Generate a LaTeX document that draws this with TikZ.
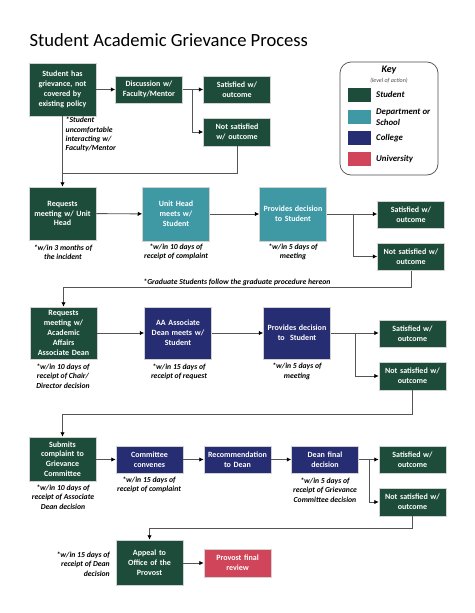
\documentclass[tikz,border=0pt]{standalone}
\usepackage{fontspec}
\setmainfont{Carlito}
\usepackage{tikz}
\usetikzlibrary{calc}
\usetikzlibrary{shapes,arrows,arrows.meta,positioning}
\definecolor{stugreen}{HTML}{1D4C3B}
\definecolor{deptteal}{HTML}{3E99A5}
\definecolor{collnavy}{HTML}{272D72}
\definecolor{univred}{HTML}{D0455A}
\definecolor{linegray}{HTML}{555555}
\tikzset{
  box/.style={draw=gray!35, line width=0.5pt, text=white, align=center,
    text width=62pt, inner xsep=2.5pt, inner ysep=0pt, minimum height=27.5pt,
    font=\fontsize{8}{9.8}\selectfont\bfseries},
  stud/.style={box, fill=stugreen},
  dept/.style={box, fill=deptteal},
  coll/.style={box, fill=collnavy},
  univ/.style={box, fill=univred},
  note/.style={inner sep=0pt, align=center, font=\fontsize{7.7}{9.3}\selectfont\bfseries\itshape},
  keylabel/.style={note, anchor=west, align=left, font=\fontsize{8.8}{11}\selectfont\bfseries\itshape},
  conn/.style={draw=linegray, line width=0.9pt},
  swatch/.style={minimum width=23pt, minimum height=14pt, inner sep=0pt}
}

\begin{document}
\begin{tikzpicture}[x=1pt, y=-1pt, >={Latex[length=4.5pt,width=4.5pt,color=black]}]
    \useasboundingbox[fill=white] (0,0) rectangle (474,613);

    \node(title)[anchor=west, inner sep=0pt, font=\fontsize{18.6}{21}\selectfont] at (29.5,40) {Student Academic Grievance Process};

    % first step
    \node(a)[stud, minimum height=53pt] at (62.5,89.5) {Student has\\grievance, not\\covered by\\existing policy};
    \node(b)[stud] at (149,89.5) {Discussion w/\\Faculty/Mentor};
    \node(c)[stud] at (237,89.5) {Satisfied w/\\outcome};
    \node(d)[stud] at (237,132) {Not satisfied\\w/ outcome};
    \node(na)[note, anchor=north west, align=left] at (65.5,117) {*Student\\uncomfortable\\interacting w/\\Faculty/Mentor};
    \coordinate(b1) at (192,89.5);
    \coordinate(r1) at (62.5,173);
    \draw[conn, ->] (a) -- (b);
    \draw[conn, ->] (b) -- (c);
    \draw[conn, ->] (b1) |- (d);
    \draw[conn] (d.south) |- (r1);

    % department
    \node(e)[stud, minimum height=53pt] at (62.5,213.5) {Requests\\meeting w/ Unit\\Head};
    \node(f)[dept, minimum height=54pt] at (176,214) {Unit Head\\meets w/\\Student};
    \node(g)[dept, minimum height=54pt] at (293,214) {Provides decision\\to Student};
    \node(h)[stud] at (411,214.5) {Satisfied w/\\outcome};
    \node(i)[stud] at (411,256.5) {Not satisfied w/\\outcome};
    \node(ne)[note] at (63,252) {*w/in 3 months of\\the incident};
    \node(nf)[note] at (176,252) {*w/in 10 days of\\receipt of complaint};
    \node(ng)[note] at (293,252) {*w/in 5 days of\\meeting};
    \node(ngrad)[note] at (237,282) {*Graduate Students follow the graduate procedure hereon};
    \draw[conn, ->] (a.south) -- (e.north);
    \coordinate(g1) at (353,214);
    \coordinate(r2) at (63.5,287);
    \draw[conn, ->] (e) -- (f);
    \draw[conn, ->] (f) -- (g);
    \draw[conn, ->] (g.east) -- (h.west |- g1);
    \draw[conn, ->] (g1) |- (i);

    % college
    \node(j)[stud, minimum height=52pt] at (63.5,333) {Requests\\meeting w/\\Academic\\Affairs\\Associate Dean};
    \node(k)[coll, minimum height=52pt] at (178,333) {AA Associate\\Dean meets w/\\Student};
    \node(l)[coll, minimum height=52pt] at (297,333) {Provides decision\\to\ \ Student};
    \node(m)[stud] at (412.5,333.5) {Satisfied w/\\outcome};
    \node(n)[stud] at (412.5,376) {Not satisfied w/\\outcome};
    \node(nj)[note] at (63,376) {*w/in 10 days of\\receipt of Chair/\\Director decision};
    \node(nk)[note] at (179,371.5) {*w/in 15 days of\\receipt of request};
    \node(nl)[note] at (297,371.5) {*w/in 5 days of\\meeting};
    \draw[conn, ->] (i.south) |- (r2) -- (j.north);
    \coordinate(l1) at (355,333);
    \coordinate(r3) at (62.5,414);
    \draw[conn, ->] (j) -- (k);
    \draw[conn, ->] (k) -- (l);
    \draw[conn, ->] (l.east) -- (m.west |- l1);
    \draw[conn, ->] (l1) |- (n);

    % grievance committee
    \node(o)[stud, minimum height=44pt] at (62.5,459) {Submits\\complaint to\\Grievance\\Committee};
    \node(p)[coll] at (149.5,459.5) {Committee\\convenes};
    \node(q)[coll] at (237.5,459.5) {Recommendation\\to Dean};
    \node(r)[coll] at (325,459.5) {Dean final\\decision};
    \node(s)[stud] at (412.5,459.5) {Satisfied w/\\outcome};
    \node(t)[stud] at (412.5,502) {Not satisfied w/\\outcome};
    \node(no)[note] at (63,497) {*w/in 10 days of\\receipt of Associate\\Dean decision};
    \node(np)[note] at (149,485) {*w/in 15 days of\\receipt of complaint};
    \node(nr)[note] at (325,490) {*w/in 5 days of\\receipt of Grievance\\Committee decision};
    \draw[conn, ->] (n.south) |- (r3) -- (o.north);
    \coordinate(r4) at (369,459.5);
    \coordinate(r5) at (149.5,528);
    \draw[conn, ->] (o.east |- p) -- (p);
    \draw[conn, ->] (p) -- (q);
    \draw[conn, ->] (q) -- (r);
    \draw[conn, ->] (r) -- (s);
    \draw[conn, ->] (r4) |- (t);

    % provost
    \node(u)[stud, minimum height=45pt] at (149.5,562.5) {Appeal to\\Office of the\\Provost};
    \node(v)[univ] at (237.5,563) {Provost final\\review};
    \node(nu)[note, anchor=east, align=right] at (110,564) {*w/in 15 days of\\receipt of Dean\\decision};
    \draw[conn, ->] (t.south) |- (r5) -- (u.north);
    \draw[conn, ->] (u.east |- v) -- (v);

    % key
    \node(key)[draw=black!70, line width=0.7pt, rounded corners=11pt, minimum width=98pt, minimum height=113pt] at (389,118.5) {};
    \node(keyt)[inner sep=0pt, font=\fontsize{10}{11}\selectfont\bfseries\itshape] at (389,70) {Key};
    \node(keys)[inner sep=0pt, font=\fontsize{6}{7}\selectfont\itshape, text=black!70] at (389,80.5) {(level of action)};
    \node(k1)[swatch, fill=stugreen] at (359.5,95) {};
    \node(k2)[swatch, fill=deptteal] at (359.5,116.5) {};
    \node(k3)[swatch, fill=collnavy] at (359.5,137.5) {};
    \node(k4)[swatch, fill=univred] at (359.5,159) {};
    \node(l1t)[keylabel] at (376,94.5) {Student};
    \node(l2t)[keylabel] at (376,117) {Department or\\School};
    \node(l3t)[keylabel] at (376,138) {College};
    \node(l4t)[keylabel] at (376,159) {University};
\end{tikzpicture}
\end{document}
